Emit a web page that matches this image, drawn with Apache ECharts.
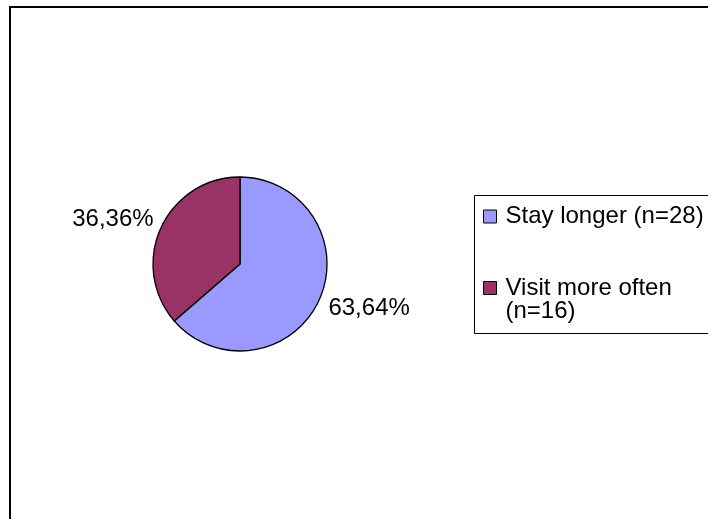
<!DOCTYPE html>
<html>
<head>
<meta charset="utf-8">
<script src="https://cdn.jsdelivr.net/npm/echarts@6/dist/echarts.min.js"></script>
<style>
html,body{margin:0;padding:0;background:#fff;}
#chart{width:708px;height:519px;}
</style>
</head>
<body>
<div id="chart"></div>
<script>
const categories = ['Stay longer (n=28)', 'Visit more often (n=16)'];
const counts = [28, 16];
const colors = ['#9999FF', '#993366'];

const total = counts.reduce((a, b) => a + b, 0);
const FONT = "'Liberation Sans', Arial, sans-serif";

const chart = echarts.init(document.getElementById('chart'));
chart.setOption({
  animation: false,
  backgroundColor: '#fff',
  graphic: [
    { type: 'rect', shape: { x: 10, y: 7, width: 800, height: 700 }, style: { fill: 'none', stroke: '#000', lineWidth: 2 }, z: 0 },
    { type: 'rect', shape: { x: 474.5, y: 195.5, width: 300, height: 138 }, style: { fill: 'none', stroke: '#000', lineWidth: 1 }, z: 0 }
  ],
  legend: [
    {
      data: [categories[0]],
      orient: 'vertical', left: 483, top: 204.5, padding: 0,
      itemWidth: 13, itemHeight: 13, icon: 'rect',
      itemStyle: { borderColor: '#000', borderWidth: 1 },
      textStyle: { fontFamily: FONT, fontSize: 24, color: '#000', lineHeight: 24, padding: [0, 0, 0, 4] },
      selectedMode: false
    },
    {
      data: [categories[1]],
      orient: 'vertical', left: 483, top: 253, padding: 0,
      itemWidth: 13, itemHeight: 13, icon: 'rect',
      itemStyle: { borderColor: '#000', borderWidth: 1 },
      formatter: name => '\n' + name.replace(' (', '\n('),
      textStyle: { fontFamily: FONT, fontSize: 24, color: '#000', lineHeight: 23, padding: [0, 0, 0, 4] },
      selectedMode: false
    }
  ],
  series: [{
    type: 'pie',
    center: [240, 264],
    radius: 87,
    startAngle: 90,
    clockwise: true,
    silent: true,
    itemStyle: { borderColor: '#000', borderWidth: 1.3 },
    label: {
      show: true, position: 'outside',
      fontFamily: FONT, fontSize: 24, color: '#000',
      distanceToLabelLine: 0,
      formatter: p => (p.value / total * 100).toFixed(2).replace('.', ',') + '%'
    },
    labelLine: { show: false, length: 8, length2: 0 },
    labelLayout: p => ({ dx: p.dataIndex === 0 ? 2 : 0, dy: p.dataIndex === 0 ? 5 : -5 }),
    emphasis: { disabled: true },
    data: categories.map((c, i) => ({ name: c, value: counts[i], itemStyle: { color: colors[i] } }))
  }]
});
</script>
</body>
</html>
